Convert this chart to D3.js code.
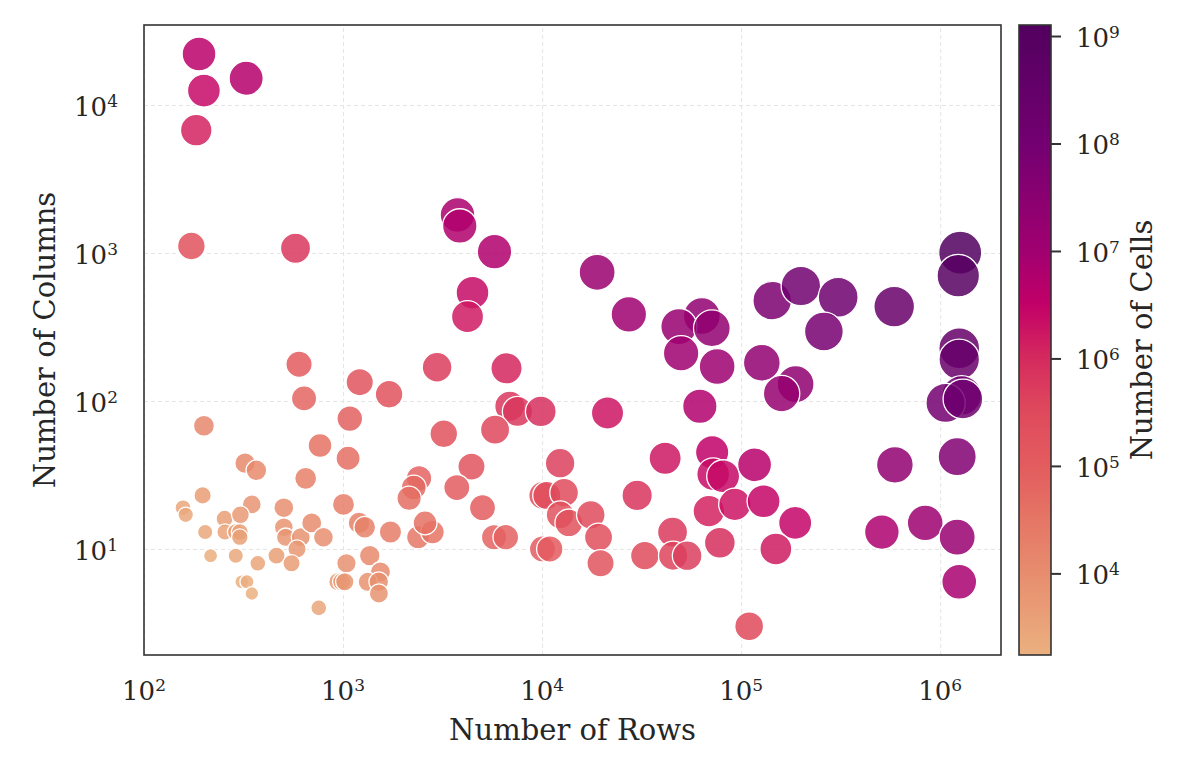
<!doctype html>
<html>
<head>
<meta charset="utf-8">
<style>
    body {
        margin: 0;
        background: #fff;
    }

    svg {
        font-family: 'DejaVu Serif', serif;
    }

    text {
        fill: #262626;
    }

    .grid line {
        stroke: #e4e4e4;
        stroke-width: 1;
        stroke-dasharray: 4 3;
    }

    .grid path {
        display: none;
    }

    .frame {
        fill: none;
        stroke: #333;
        stroke-width: 1.6;
    }

    text.tick-label {
        font-size: 26px;
    }

    text.label {
        font-size: 29px;
    }

    .cbar .tick line {
        stroke: #333;
        stroke-width: 2;
    }

    .cbar path {
        display: none;
    }

    circle.dot {
        stroke: #fff;
        stroke-width: 1.3;
        fill-opacity: 0.85;
    }
</style>
<script src="https://d3js.org/d3.v7.min.js"></script>
</head>
<body>
<svg width="1203" height="758"></svg>
<script>
    // datasets: number of rows and number of columns
    const rows = [
        189, 200, 326, 183, 173, 577, 601, 637, 1213, 1081, 1703, 200,
        766, 1060, 322, 367, 649, 197, 157, 162, 348, 254, 305, 203,
        255, 289, 303, 303, 216, 289, 373, 310, 329, 348, 504, 504,
        515, 613, 696, 797, 587, 463, 551, 755, 1005, 1203, 1285, 1730,
        2382, 2813, 2582, 2409, 2266, 2147, 1362, 1040, 1541, 941, 985, 1020,
        1331, 1511, 1514,
        2968, 6625, 6882, 7521, 9851, 21310, 3206, 5804, 4418, 12317, 3728, 5018,
        10081, 10558, 12900, 12317, 13620, 17570, 19210, 19660, 5738, 6572, 10046, 10930,
        30020, 41500, 71500, 72340, 81200, 116800, 68800, 92950, 129600, 186800, 149400, 45220,
        32820, 45530, 53540, 78160, 109700, 62000,
        3758, 3859, 5765, 4470, 4220, 18900, 27270, 63460, 48640, 71260, 49930, 75750,
        143200, 199500, 307200, 260400, 127000, 187700, 159600, 587200,
        1260000, 1232000, 1246000, 1246000, 1281000, 1064000, 1300000, 1217000, 592000, 509300, 840700, 1217000,
        1246000
    ]
    const cols = [
        22100, 12500, 15150, 6750, 1115, 1076, 177, 104, 134, 76, 111, 68,
        50, 41, 38, 34, 30, 23, 19, 17, 20, 16, 17, 13,
        13, 13, 13, 12, 9, 9, 8, 6, 6, 5, 19, 14,
        12, 12, 15, 12, 10, 9, 8, 4, 20, 15, 14, 13,
        12, 13, 15, 30, 26, 22, 9, 8, 7, 6, 6, 6,
        6, 6, 5,
        169, 166, 92, 85, 85, 83, 60, 64, 36, 38, 26, 19,
        23, 23, 24, 17, 15, 17, 12, 8, 12, 12, 10, 10,
        23, 41, 45, 32, 31, 37, 18, 20, 21, 15, 10, 13,
        9, 9, 9, 11, 3, 92,
        1806, 1522, 1020, 539, 371, 740, 385, 375, 318, 310, 210, 171,
        476, 598, 502, 295, 181, 130, 112, 434,
        1005, 702, 227, 191, 109, 97, 103, 42, 37, 13, 15, 12,
        6
    ]

    const xTicks = [1e2, 1e3, 1e4, 1e5, 1e6]
    const yTicks = [1e1, 1e2, 1e3, 1e4]
    const cbarTicks = [1e4, 1e5, 1e6, 1e7, 1e8, 1e9]

    const xDomain = [1e2, 2.02e6]
    const yDomain = [1.92, 3.47e4]

    // colormap stops, light tan -> red -> magenta -> dark purple
    const cmapPos = [0, 0.13, 0.215, 0.30, 0.386, 0.471, 0.556, 0.641, 0.812, 1]
    const cmapColors = ['#ebb07f', '#e78d6e', '#e57665', '#e35c5f', '#df4a5c',
        '#d52a5e', '#c20068', '#a10070', '#730071', '#52005f']

    const data = rows.map((r, i) => ({ rows: r, cols: cols[i], cells: r * cols[i] }))

    const svg = d3.select('svg')

    const plotLeft = 144, plotRight = 1001, plotTop = 25, plotBottom = 655
    const width = plotRight - plotLeft
    const height = plotBottom - plotTop

    const xScale = d3.scaleLog().domain(xDomain).range([plotLeft, plotRight])
    const yScale = d3.scaleLog().domain(yDomain).range([plotBottom, plotTop])

    const cellExtent = d3.extent(data, d => d.cells)
    const norm = d3.scaleLog().domain(cellExtent).range([0, 1])
    const cmap = d3.scaleLinear().domain(cmapPos).range(cmapColors).interpolate(d3.interpolateRgb)
    const areaScale = d3.scaleLog().domain(cellExtent).range([6.8 * 6.8, 21.5 * 21.5])

    // grid
    svg.append('g')
        .attr('class', 'grid')
        .attr('transform', `translate(0, ${plotBottom})`)
        .call(d3.axisBottom(xScale).tickValues(xTicks).tickSize(-height).tickFormat(''))

    svg.append('g')
        .attr('class', 'grid')
        .attr('transform', `translate(${plotLeft}, 0)`)
        .call(d3.axisLeft(yScale).tickValues(yTicks).tickSize(-width).tickFormat(''))

    // points
    svg.append('g')
        .selectAll('circle')
        .data(data)
        .enter()
        .append('circle')
        .attr('class', 'dot')
        .attr('cx', d => xScale(d.rows))
        .attr('cy', d => yScale(d.cols))
        .attr('r', d => Math.sqrt(areaScale(d.cells)))
        .attr('fill', d => cmap(norm(d.cells)))

    svg.append('rect')
        .attr('class', 'frame')
        .attr('x', plotLeft)
        .attr('y', plotTop)
        .attr('width', width)
        .attr('height', height)

    // power-of-ten labels
    function powLabel(sel) {
        sel.append('tspan').text('10')
        sel.append('tspan')
            .attr('dy', -9)
            .attr('font-size', 17)
            .text(d => Math.round(Math.log10(d)))
    }

    svg.append('g')
        .selectAll('text')
        .data(xTicks)
        .enter()
        .append('text')
        .attr('class', 'tick-label')
        .attr('x', d => xScale(d))
        .attr('y', 700)
        .attr('text-anchor', 'middle')
        .call(powLabel)

    svg.append('g')
        .selectAll('text')
        .data(yTicks)
        .enter()
        .append('text')
        .attr('class', 'tick-label')
        .attr('x', 118)
        .attr('y', d => yScale(d) + 11)
        .attr('text-anchor', 'end')
        .call(powLabel)

    svg.append('text')
        .attr('class', 'label')
        .attr('x', (plotLeft + plotRight) / 2)
        .attr('y', 740)
        .attr('text-anchor', 'middle')
        .text('Number of Rows')

    svg.append('text')
        .attr('class', 'label')
        .attr('transform', `translate(55, ${(plotTop + plotBottom) / 2}) rotate(-90)`)
        .attr('text-anchor', 'middle')
        .text('Number of Columns')

    // colorbar
    const cbX = 1019, cbW = 32
    const cbScale = d3.scaleLog().domain(cellExtent).range([plotBottom, plotTop])

    const grad = svg.append('defs')
        .append('linearGradient')
        .attr('id', 'cbgrad')
        .attr('x1', 0).attr('y1', 1)
        .attr('x2', 0).attr('y2', 0)

    grad.selectAll('stop')
        .data(d3.range(0, 1.0001, 0.02))
        .enter()
        .append('stop')
        .attr('offset', d => d)
        .attr('stop-color', d => cmap(d))

    svg.append('rect')
        .attr('x', cbX)
        .attr('y', plotTop)
        .attr('width', cbW)
        .attr('height', height)
        .attr('fill', 'url(#cbgrad)')
        .attr('stroke', '#333')
        .attr('stroke-width', 1.6)

    svg.append('g')
        .attr('class', 'cbar')
        .attr('transform', `translate(${cbX + cbW}, 0)`)
        .call(d3.axisRight(cbScale).tickValues(cbarTicks).tickSize(10).tickFormat(''))

    svg.append('g')
        .selectAll('text')
        .data(cbarTicks)
        .enter()
        .append('text')
        .attr('class', 'tick-label')
        .attr('x', 1076)
        .attr('y', d => cbScale(d) + 11)
        .call(powLabel)

    svg.append('text')
        .attr('class', 'label')
        .attr('transform', `translate(1152, ${(plotTop + plotBottom) / 2}) rotate(-90)`)
        .attr('text-anchor', 'middle')
        .text('Number of Cells')
</script>
</body>
</html>
